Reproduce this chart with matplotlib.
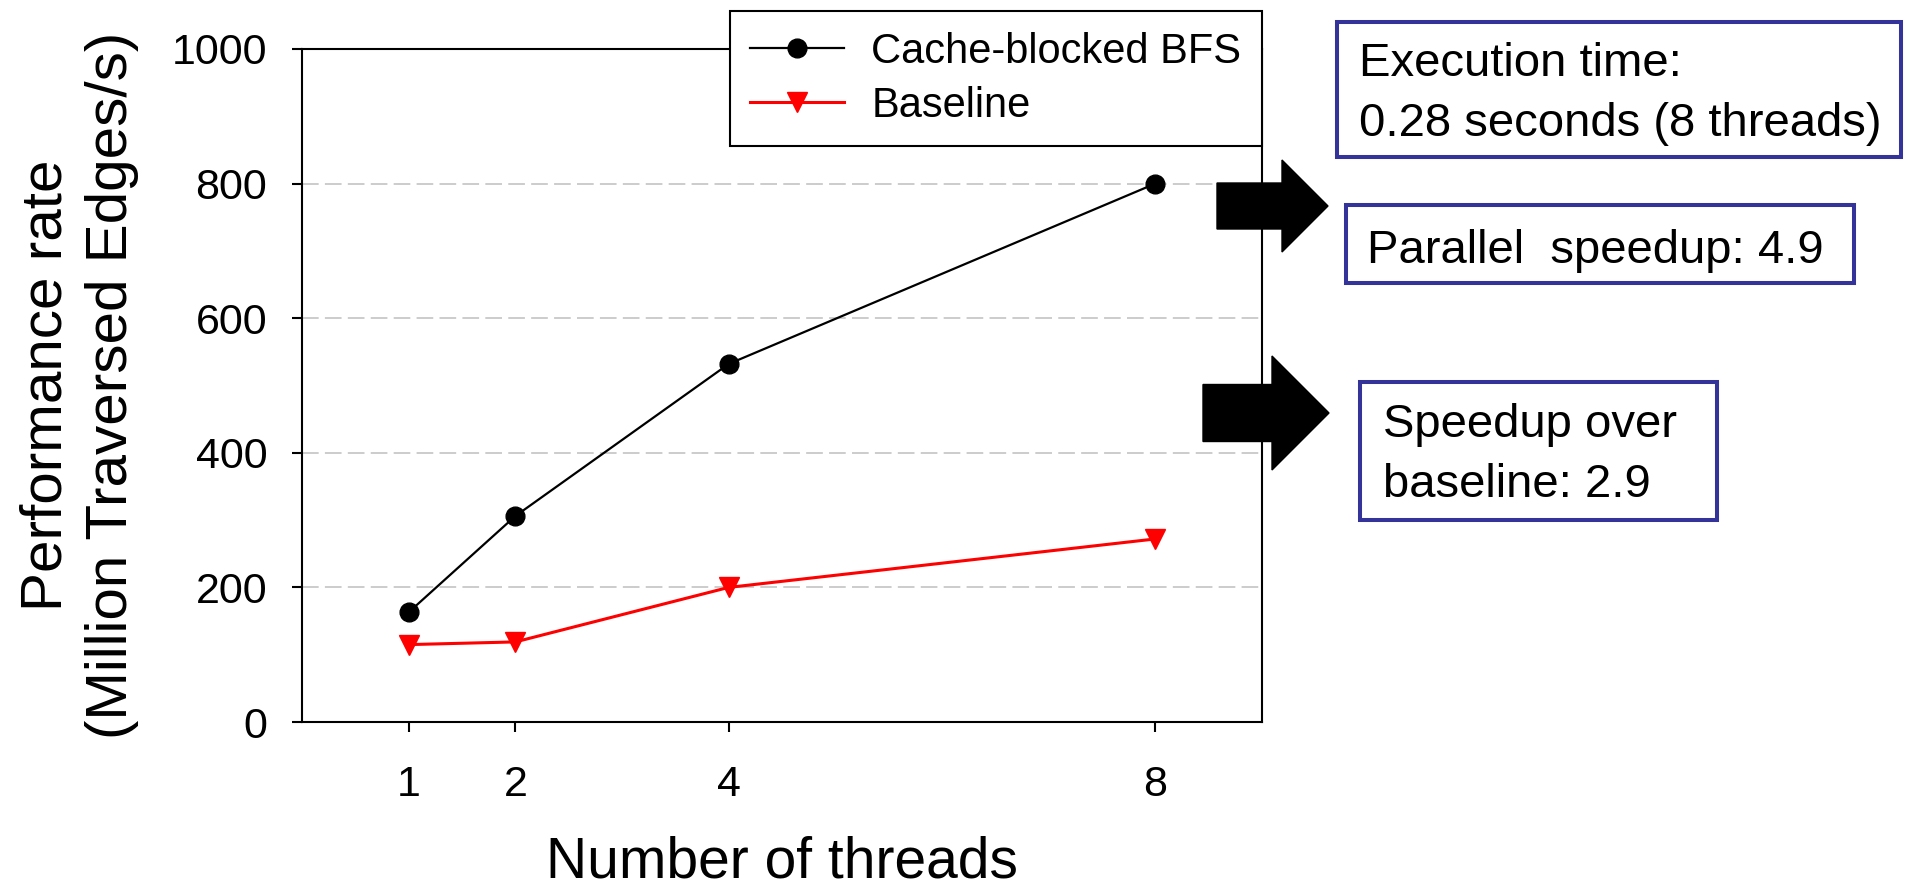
import matplotlib
matplotlib.use('Agg')
import matplotlib.pyplot as plt
import matplotlib.patches as mpatches

threads = [1, 2, 4, 8]
cache_blocked = [163, 306, 532, 800]
baseline = [115, 119, 200, 272]
yticks = [0, 200, 400, 600, 800, 1000]

ylabel_lines = ['Performance rate', '(Million Traversed Edges/s)']
notes = [
    'Execution time:\n0.28 seconds (8 threads)',
    'Parallel  speedup: 4.9',
    'Speedup over\nbaseline: 2.9',
]

plt.rcParams['font.family'] = ['Liberation Sans', 'DejaVu Sans']
plt.rcParams['lines.scale_dashes'] = False

W, H = 1907, 890
fig = plt.figure(figsize=(W / 100, H / 100), dpi=100)


def px(x, y):
    # pixel position (from top-left) -> inches from bottom-left
    return x / 100, (H - y) / 100


ax = fig.add_axes([302 / W, (H - 722) / H, 960 / W, 673 / H])

ax.plot(threads, cache_blocked, color='black', lw=1.6, marker='o', ms=13.5,
        label='Cache-blocked BFS', zorder=3)
ax.plot(threads, baseline, color='#ff0000', lw=2.2, marker='v', ms=15,
        label='Baseline', zorder=3)

ax.set_xlim(0, 9)
ax.set_ylim(0, 1000)
ax.set_xticks(threads)
ax.set_yticks(yticks)
ax.yaxis.grid(True, color='#c4c4c4', linestyle=(0, (12, 4.5)), linewidth=1.2)
ax.set_axisbelow(True)
for s in ax.spines.values():
    s.set_linewidth(1.5)
ax.tick_params(axis='both', direction='out', length=7, width=1.5, labelsize=31)
ax.tick_params(axis='x', pad=24)
ax.tick_params(axis='y', pad=18)

ax.set_xlabel('Number of threads', fontsize=41, va='baseline')
ax.xaxis.set_label_coords(0.5, (722 - 878) / 673)

# two-line y label, each line placed at its baseline, centred on the axes
for s, bx in zip(ylabel_lines, [62, 127]):
    xx, yy = px(bx, 385.5)
    fig.text(xx, yy, s, fontsize=42, rotation=90, rotation_mode='anchor',
             ha='center', va='baseline', transform=fig.dpi_scale_trans)

leg = ax.legend(loc='upper right', bbox_to_anchor=px(1262, 11),
                bbox_transform=fig.dpi_scale_trans, fontsize=30,
                fancybox=False, framealpha=1, edgecolor='black',
                borderpad=0.5, labelspacing=0.33, handlelength=2.25,
                handletextpad=0.65, borderaxespad=0)
leg.get_frame().set_linewidth(1.5)

# block arrows
arrows = [(1217, 1328, 206, 46, 92, 46), (1203, 1329, 413, 57, 114, 57)]
for x0, x1, yc, w, hw, hl in arrows:
    sx, sy = px(x0, yc)
    ex, _ = px(x1, yc)
    fig.add_artist(mpatches.FancyArrow(sx, sy, ex - sx, 0, width=w / 100,
                                       head_width=hw / 100, head_length=hl / 100,
                                       length_includes_head=True, color='black',
                                       transform=fig.dpi_scale_trans))

# annotation boxes (text anchored at the baseline of its last line)
boxes = [(1337, 22, 1901, 157), (1346, 205, 1854, 283), (1360, 382, 1717, 520)]
text_pos = [(1359, 136), (1367, 263), (1383, 497)]
for (l, t, r, b), (tx, ty), s in zip(boxes, text_pos, notes):
    x0, y0 = px(l, b)
    fig.add_artist(mpatches.Rectangle((x0, y0), (r - l) / 100, (b - t) / 100,
                                      fill=True, facecolor='white', edgecolor='#333399',
                                      linewidth=2.9, transform=fig.dpi_scale_trans))
    xx, yy = px(tx, ty)
    fig.text(xx, yy, s, fontsize=34, ha='left', va='baseline', linespacing=1.46,
             transform=fig.dpi_scale_trans)

fig.savefig('out.png', dpi=100)
